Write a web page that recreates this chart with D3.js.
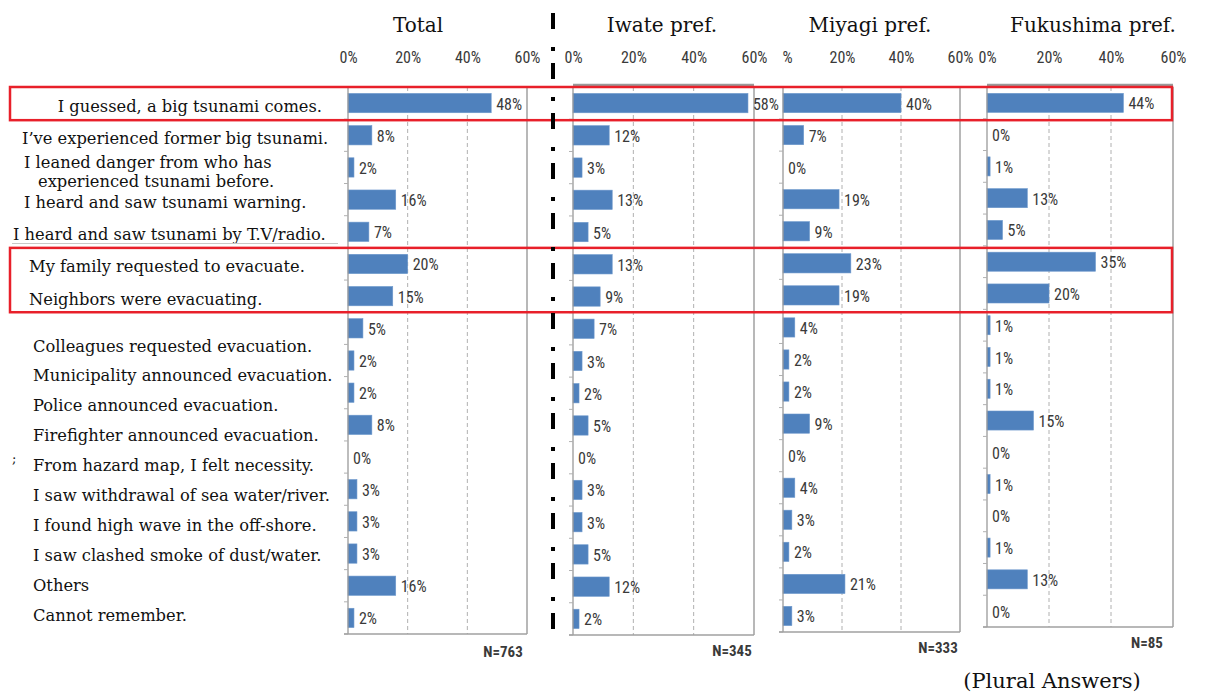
<!DOCTYPE html>
<html><head><meta charset="utf-8">
<script src="https://cdn.jsdelivr.net/npm/d3@7"></script>
<style>
body{margin:0;background:#fff;}
svg{display:block;}
.serif{font-family:"DejaVu Serif","Liberation Serif",serif;fill:#111;}
.cond{font-family:"Liberation Sans Narrow","Arial Narrow","Roboto Condensed",sans-serif;fill:#3a3a3a;}
</style></head>
<body>
<svg id="chart" width="1205" height="693"></svg>
<script>
// ---------- data ----------
const rowKeys = ["r1","r2","r3","r4","r5","r6","r7","r8","r9","r10","r11","r12","r13","r14","r15","r16","r17"];
const labelsTop = ["I guessed, a big tsunami comes.","I\u2019ve experienced former big tsunami.",
  ["I leaned danger from who has","experienced tsunami before."],
  "I heard and saw tsunami warning.","I heard and saw tsunami by T.V/radio.",
  "My family requested to evacuate.","Neighbors were evacuating."];
const labelsBottom = ["Colleagues requested evacuation.","Municipality announced evacuation.",
  "Police announced evacuation.","Firefighter announced evacuation.","From hazard map, I felt necessity.",
  "I saw withdrawal of sea water/river.","I found high wave in the off-shore.",
  "I saw clashed smoke of dust/water.","Others","Cannot remember."];
const totalValues     = [48, 8, 2,16, 7,20,15, 5, 2, 2, 8, 0, 3, 3, 3,16, 2];
const iwateValues     = [58,12, 3,13, 5,13, 9, 7, 3, 2, 5, 0, 3, 3, 5,12, 2];
const miyagiValues    = [40, 7, 0,19, 9,23,19, 4, 2, 2, 9, 0, 4, 3, 2,21, 3];
const fukushimaValues = [44, 0, 1,13, 5,35,20, 1, 1, 1,15, 0, 1, 0, 1,13, 0];
const panelTitles = ["Total","Iwate pref.","Miyagi pref.","Fukushima pref."];
const sampleSizes = ["N=763","N=345","N=333","N=85"];
const tickValues = [0,20,40,60];
const footnote = "(Plural Answers)";

// ---------- layout ----------
const svg = d3.select("#chart");
const panels = [
  {vals: totalValues,     x0:348, x1:527, y0:87, y1:634, tx:418,  nx:503,  ny:652, top:false, clipX:null},
  {vals: iwateValues,     x0:573, x1:754, y0:87, y1:635, tx:662,  nx:732,  ny:651, top:true,  clipX:null},
  {vals: miyagiValues,    x0:783, x1:960, y0:87, y1:632, tx:870,  nx:938,  ny:648, top:false, clipX:782},
  {vals: fukushimaValues, x0:987, x1:1173,y0:87, y1:627, tx:1093, nx:1147, ny:643, top:true,  clipX:null}
];
const BLUE = "#4F81BD";
const defs = svg.append("defs");
let totalY;

panels.forEach((p, i) => {
  const x = d3.scaleLinear().domain([0,60]).range([p.x0, p.x1]);
  const y = d3.scaleBand().domain(rowKeys).range([p.y0, p.y1]).paddingInner(0.4).paddingOuter(0.2);
  if (i === 0) totalY = y;
  const g = svg.append("g");

  // title
  g.append("text").attr("class","serif").attr("x",p.tx).attr("y",25)
    .attr("text-anchor","middle").attr("dominant-baseline","central")
    .style("font-size","20px").text(panelTitles[i]);

  // tick labels via axis
  const axG = g.append("g").attr("transform","translate(0,63)");
  if (p.clipX !== null) {
    defs.append("clipPath").attr("id","clip"+i).append("rect")
      .attr("x",p.clipX).attr("y",-40).attr("width",400).attr("height",60);
    axG.attr("clip-path","url(#clip"+i+")");
  }
  axG.call(d3.axisTop(x).tickValues(tickValues).tickFormat(d=>d+"%").tickSize(0).tickPadding(0));
  axG.select(".domain").remove();
  axG.selectAll("text").attr("class","cond").attr("fill","#404040")
     .style("font-size","16px");

  // gridlines
  g.selectAll(".grid").data([20,40]).join("line")
    .attr("x1",d=>x(d)).attr("x2",d=>x(d)).attr("y1",p.y0).attr("y2",p.y1)
    .attr("stroke","#b0b0b0").attr("stroke-width",1).attr("stroke-dasharray","4,3");
  // right border
  g.append("line").attr("x1",x(60)).attr("x2",x(60)).attr("y1",p.y0).attr("y2",p.y1)
    .attr("stroke","#a0a0a0").attr("stroke-width",1.5);
  if (p.top) g.append("line").attr("x1",x(0)).attr("x2",x(60)).attr("y1",p.y0-2).attr("y2",p.y0-2)
    .attr("stroke","#9a9a9a").attr("stroke-width",2.5);

  // bars
  g.selectAll(".bar").data(p.vals).join("rect")
    .attr("x",x(0)).attr("y",(d,j)=>y(rowKeys[j]))
    .attr("width",d=>x(d)-x(0)).attr("height",y.bandwidth())
    .attr("fill",BLUE).attr("stroke","#6d98cc").attr("stroke-width",0.6);

  // value labels
  g.selectAll(".val").data(p.vals).join("text").attr("class","cond")
    .attr("x",d=>x(d)+5).attr("y",(d,j)=>y(rowKeys[j])+y.bandwidth()/2+1)
    .attr("dominant-baseline","central").style("font-size","16px")
    .attr("fill","#404040").text(d=>d+"%");

  // left axis + ticks
  g.append("line").attr("x1",x(0)).attr("x2",x(0)).attr("y1",p.y0).attr("y2",p.y1)
    .attr("stroke","#9a9a9a").attr("stroke-width",1.3);
  const bounds = rowKeys.map(k=>y(k)-y.step()*y.paddingInner()/2).slice(1).concat([p.y1]);
  g.selectAll(".ctick").data(bounds).join("line")
    .attr("x1",x(0)-4).attr("x2",x(0)).attr("y1",d=>d).attr("y2",d=>d)
    .attr("stroke","#b0b0b0").attr("stroke-width",1);
  // bottom axis
  g.append("line").attr("x1",x(0)-4).attr("x2",x(60)).attr("y1",p.y1).attr("y2",p.y1)
    .attr("stroke","#a0a0a0").attr("stroke-width",1.5);

  // N label
  g.append("text").attr("class","cond").attr("x",p.nx).attr("y",p.ny)
    .attr("text-anchor","middle").attr("dominant-baseline","central")
    .style("font-size","15px").style("font-weight","bold").attr("fill","#222").text(sampleSizes[i]);
});

// ---------- category labels ----------
const lab = svg.append("g").attr("class","serif").style("font-size","16.3px");
const topX = [{x:322,a:"end"},{x:22,a:"start"},{x:24,a:"start"},{x:24,a:"start"},{x:13,a:"start"},{x:29,a:"start"},{x:29,a:"start"}];
labelsTop.forEach((t,j)=>{
  const cy = totalY(rowKeys[j]) + totalY.bandwidth()/2 + 3;
  if (Array.isArray(t)) {
    lab.append("text").attr("x",topX[j].x).attr("y",cy-8).attr("dominant-baseline","central").text(t[0]);
    lab.append("text").attr("x",38).attr("y",cy+11).attr("dominant-baseline","central").text(t[1]);
  } else {
    lab.append("text").attr("x",topX[j].x).attr("y",cy).attr("text-anchor",topX[j].a)
      .attr("dominant-baseline","central").text(t);
  }
});
const yLow = d3.scalePoint().domain(labelsBottom).range([346,615]);
lab.selectAll(".low").data(labelsBottom).join("text")
  .attr("x",33).attr("y",d=>yLow(d)).attr("dominant-baseline","central").text(d=>d);
// faint artefact line under TV/radio label
svg.append("line").attr("x1",12).attr("x2",338).attr("y1",243.5).attr("y2",243.5)
  .attr("stroke","#c8c8c8").attr("stroke-width",1);
// stray mark
svg.append("text").attr("class","serif").attr("x",12).attr("y",458).attr("dominant-baseline","central")
  .style("font-size","13px").attr("fill","#777").text(";");

// ---------- red highlight boxes ----------
const st = totalY.step();
const c0 = totalY(rowKeys[0]) + totalY.bandwidth()/2;
const c5 = totalY(rowKeys[5]) + totalY.bandwidth()/2;
const c6 = totalY(rowKeys[6]) + totalY.bandwidth()/2;
svg.append("rect").attr("x",10).attr("y",c0-st/2).attr("width",1162).attr("height",st+1)
  .attr("fill","none").attr("stroke","#e8202a").attr("stroke-width",2.5);
svg.append("rect").attr("x",10).attr("y",c5-st/2).attr("width",1162).attr("height",c6-c5+st)
  .attr("fill","none").attr("stroke","#e8202a").attr("stroke-width",2.5);

// ---------- dash-dot separator ----------
svg.append("line").attr("x1",553).attr("x2",553).attr("y1",13).attr("y2",643)
  .attr("stroke","#000").attr("stroke-width",4).attr("stroke-dasharray","16,18,4,12");

// footnote
svg.append("text").attr("class","serif").attr("x",1052).attr("y",681).attr("text-anchor","middle")
  .attr("dominant-baseline","central").style("font-size","21px").text(footnote);
</script>
</body></html>
